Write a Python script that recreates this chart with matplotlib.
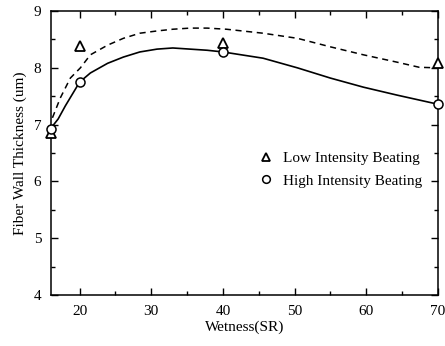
import numpy as np
from matplotlib import pyplot as plt
from matplotlib.ticker import MultipleLocator

plt.rcParams['font.family'] = ['Liberation Serif', 'DejaVu Serif']

# measured points
wet = [16, 20, 40, 70]
low_beat = [6.85, 8.38, 8.44, 8.08]
high_beat = [6.92, 7.75, 8.28, 7.36]

# fitted curves
low_fit_x = [16.2, 17.3, 18.7, 20.1, 21.5, 23.9, 26.1, 28.4, 30.8, 33.0, 35.4, 37.8,
             40.5, 45.6, 50.4, 55.0, 59.6, 64.3, 67.4, 70.0]
low_fit_y = [7.12, 7.47, 7.82, 8.00, 8.23, 8.40, 8.52, 8.61, 8.65, 8.68, 8.70, 8.70,
             8.68, 8.61, 8.52, 8.37, 8.23, 8.10, 8.01, 8.00]
high_fit_x = [16.0, 17.0, 18.0, 20.0, 21.5, 23.9, 26.1, 28.4, 30.8, 33.0, 35.4, 37.8,
              40.0, 45.6, 50.4, 55.0, 59.6, 64.3, 70.0]
high_fit_y = [6.94, 7.10, 7.33, 7.75, 7.91, 8.08, 8.19, 8.28, 8.33, 8.35, 8.33, 8.31,
              8.28, 8.17, 8.00, 7.82, 7.66, 7.52, 7.36]

fig = plt.figure(figsize=(4.45, 3.46), dpi=100)
ax = fig.add_axes([0.1146, 0.1474, 0.8694, 0.8206])

ax.plot(low_fit_x, low_fit_y, color='black', linestyle=(0, (4, 3)), linewidth=1.1)
ax.plot(high_fit_x, high_fit_y, color='black', linestyle='-', linewidth=1.2)
ax.plot(wet, low_beat, linestyle='none', marker='^', markersize=6.5, markerfacecolor='white',
        markeredgecolor='black', markeredgewidth=1.3, clip_on=False, zorder=3,
        label='Low Intensity Beating')
ax.plot(wet, high_beat, linestyle='none', marker='o', markersize=6.5, markerfacecolor='white',
        markeredgecolor='black', markeredgewidth=1.1, clip_on=False, zorder=4,
        label='High Intensity Beating')

ax.set_xlim(16, 70)
ax.set_ylim(4, 9)
ax.set_xticks([20, 30, 40, 50, 60, 70])
ax.set_yticks([4, 5, 6, 7, 8, 9])
ax.xaxis.set_minor_locator(MultipleLocator(5))
ax.yaxis.set_minor_locator(MultipleLocator(0.5))
ax.tick_params(which='both', direction='in', top=True, right=True, labelsize=11)
ax.tick_params(which='major', length=5, width=1, pad=7)
ax.tick_params(which='minor', length=3, width=1)
for s in ax.spines.values():
    s.set_linewidth(1.1)

ax.set_xlabel('Wetness(SR)', fontsize=11, labelpad=2)
ax.set_ylabel('Fiber Wall Thickness (um)', fontsize=11, labelpad=5)

ax.legend(loc='upper left', bbox_to_anchor=(0.5, 0.555), frameon=False, fontsize=11,
          handletextpad=0.6, handlelength=1.0, markerscale=0.85, labelspacing=0.6)

fig.savefig('out.png', dpi=100)
